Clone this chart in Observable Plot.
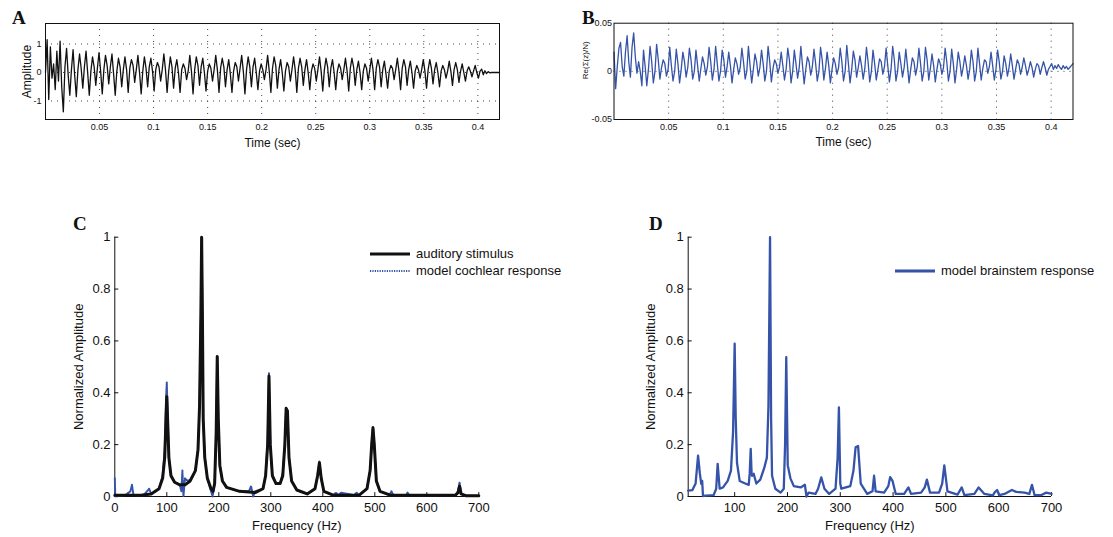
<!DOCTYPE html>
<html><head><meta charset="utf-8">
<script src="https://cdn.jsdelivr.net/npm/d3@7"></script>
<script src="https://cdn.jsdelivr.net/npm/@observablehq/plot@0.6"></script>
<style>
body{margin:0;background:#fff;}
#wrap{position:relative;width:1113px;height:537px;overflow:hidden;background:#fff;font-family:"Liberation Sans",Arial,sans-serif;color:#111;}
.panel{position:absolute;}
.letter{position:absolute;font-family:"Liberation Serif","Times New Roman",serif;font-weight:bold;font-size:19px;line-height:19px;color:#111;}
.leg{position:absolute;display:flex;align-items:center;font-size:13px;height:16px;line-height:16px;color:#111;white-space:nowrap;}
.leg svg{margin-right:6px;display:block;}
</style></head>
<body>
<div id="wrap">
  <div class="letter" style="left:12px;top:8px">A</div>
  <div class="letter" style="left:582px;top:8px">B</div>
  <div class="letter" style="left:73px;top:214px">C</div>
  <div class="letter" style="left:649px;top:214px">D</div>
  <div class="panel" id="pA" style="left:0;top:0"></div>
  <div class="panel" id="pB" style="left:560px;top:0"></div>
  <div class="panel" id="pC" style="left:0;top:200px"></div>
  <div class="panel" id="pD" style="left:600px;top:200px"></div>
  <div class="leg" style="left:370px;top:246px"><svg width="40" height="6"><line x1="0" x2="40" y1="3" y2="3" stroke="#111" stroke-width="3"/></svg><span>auditory stimulus</span></div>
  <div class="leg" style="left:370px;top:263px"><svg width="40" height="6"><line x1="0" x2="40" y1="3" y2="3" stroke="#3553a8" stroke-width="2" stroke-dasharray="1.2,1.2"/></svg><span>model cochlear response</span></div>
  <div class="leg" style="left:895px;top:263px"><svg width="40" height="6"><line x1="0" x2="40" y1="3" y2="3" stroke="#3553a8" stroke-width="3"/></svg><span>model brainstem response</span></div>
</div>
<script>
// ---- data ----
const dt = 0.0015; // sample spacing (sec) of the digitised waveforms
const timeTicks = [0.05,0.1,0.15,0.2,0.25,0.3,0.35,0.4];
const ampTicksA = [-1,0,1];
const ampTicksB = [-0.05,0,0.05];
const freqTicksC = [0,100,200,300,400,500,600,700];
const freqTicksD = [100,200,300,400,500,600,700];
const normTicks = [0,0.2,0.4,0.6,0.8,1];

const stimulusWave = [
0,1.15,-0.95,0.9,-0.2,0.3,-0.6,0.75,-0.3,1.1,-0.5,-1.38,0.2,0.85,-0.1,-0.8,0.1,
0.8,-0.1,-0.85,0.1, 0.65,0.15,-0.55,0.2, 0.75,0.0,-0.8,0.05, 0.55,0.2,-0.45,0.15, 0.7,0.05,-0.75,0.1,
0.6,0.25,-0.4,0.2, 0.65,-0.05,-0.8,0.05, 0.5,0.2,-0.5,0.1, 0.55,0.1,-0.7,0.15, 0.45,0.25,-0.35,0.1,
0.6,0.0,-0.75,0.05, 0.55,0.15,-0.5,0.2, 0.5,0.05,-0.65,0.1, 0.35,0.2,-0.3,0.1, 0.65,0.1,-0.7,0.05,
0.55,0.2,-0.55,0.15, 0.45,0.0,-0.7,0.1, 0.3,0.15,-0.25,0.05, 0.6,0.05,-0.75,0.1, 0.55,0.25,-0.45,0.2,
0.5,0.0,-0.65,0.05, 0.3,0.15,-0.3,0.1, 0.6,0.1,-0.7,0.15, 0.5,0.2,-0.5,0.1, 0.45,-0.05,-0.7,0.05,
0.35,0.2,-0.3,0.15, 0.6,0.05,-0.75,0.1, 0.55,0.2,-0.5,0.2, 0.5,0.0,-0.6,0.05, 0.3,0.1,-0.25,0.1,
0.6,0.05,-0.7,0.15, 0.55,0.25,-0.55,0.1, 0.45,0.0,-0.65,0.05, 0.35,0.2,-0.3,0.1, 0.55,0.1,-0.7,0.15,
0.5,0.2,-0.45,0.1, 0.45,0.0,-0.6,0.05, 0.3,0.15,-0.3,0.1, 0.55,0.05,-0.65,0.1, 0.5,0.2,-0.5,0.15,
0.45,0.0,-0.6,0.05, 0.3,0.15,-0.25,0.1, 0.5,0.05,-0.65,0.15, 0.5,0.2,-0.45,0.1, 0.4,0.0,-0.6,0.05,
0.3,0.15,-0.3,0.1, 0.5,0.1,-0.6,0.15, 0.45,0.2,-0.5,0.1, 0.4,-0.05,-0.55,0.05, 0.25,0.15,-0.25,0.1,
0.5,0.05,-0.6,0.15, 0.45,0.2,-0.45,0.1, 0.4,0.0,-0.55,0.05, 0.25,0.1,-0.2,0.1, 0.45,0.05,-0.55,0.1,
0.45,0.15,-0.4,0.1, 0.35,0.0,-0.5,0.05, 0.25,0.1,-0.2,0.05, 0.4,0.05,-0.45,0.1, 0.35,0.1,-0.35,0.05,
0.3,0.0,-0.3,0.05, 0.2,0.05,-0.15,0.05, 0.25,0.0,-0.2,0.05,
0.12,-0.08,0.06,-0.04,0.03,-0.01,0,0,0,0,0,0
];

const brainWave = [
0.02,-0.018,0.005,0.024,0.03,0.005,-0.005,0.02,0.037,0.01,-0.006,0.025,0.04,0.015,-0.002,0.01,0.0,-0.015,
0.022,0.005,-0.015,0.002, 0.026,0.01,-0.012,0.0, 0.028,0.012,-0.008,0.004, 0.012,0.008,-0.005,0.002,
0.025,0.006,-0.01,0.0, 0.023,0.008,-0.012,0.002, 0.02,0.01,-0.006,0.004, 0.024,0.012,-0.008,0.0,
0.022,0.006,-0.01,0.003, 0.015,0.008,-0.004,0.005, 0.025,0.01,-0.009,0.002, 0.026,0.008,-0.01,0.0,
0.022,0.012,-0.006,0.005, 0.02,0.006,-0.012,0.002, 0.014,0.008,-0.003,0.004, 0.024,0.01,-0.008,0.0,
0.026,0.006,-0.012,0.002, 0.018,0.01,-0.005,0.004, 0.022,0.008,-0.01,0.0, 0.026,0.01,-0.011,0.003,
0.012,0.008,-0.002,0.005, 0.02,0.006,-0.009,0.002, 0.024,0.012,-0.012,0.0, 0.022,0.008,-0.007,0.004,
0.026,0.006,-0.013,0.002, 0.015,0.01,-0.004,0.005, 0.023,0.008,-0.01,0.0, 0.025,0.012,-0.009,0.003,
0.02,0.006,-0.012,0.002, 0.014,0.008,-0.003,0.004, 0.024,0.01,-0.01,0.0, 0.027,0.008,-0.012,0.002,
0.021,0.012,-0.006,0.004, 0.016,0.006,-0.008,0.003, 0.025,0.01,-0.011,0.0, 0.022,0.008,-0.009,0.002,
0.013,0.01,-0.003,0.005, 0.024,0.006,-0.011,0.002, 0.026,0.012,-0.01,0.0, 0.02,0.008,-0.006,0.004,
0.023,0.006,-0.012,0.002, 0.014,0.01,-0.004,0.005, 0.024,0.008,-0.01,0.0, 0.025,0.012,-0.009,0.003,
0.018,0.006,-0.011,0.002, 0.013,0.008,-0.003,0.004, 0.024,0.01,-0.01,0.0, 0.023,0.008,-0.012,0.002,
0.02,0.01,-0.005,0.004, 0.016,0.006,-0.008,0.002, 0.022,0.01,-0.01,0.0, 0.024,0.008,-0.009,0.003,
0.012,0.01,-0.002,0.005, 0.02,0.006,-0.009,0.002, 0.022,0.01,-0.008,0.0, 0.016,0.008,-0.005,0.004,
0.018,0.006,-0.008,0.002, 0.012,0.008,-0.003,0.004, 0.014,0.006,-0.004,0.002, 0.01,0.004,-0.006,0.002,
0.008,0.006,-0.003,0.004, 0.01,0.004,-0.004,0.002,
0.005,0.008,0.002,0.006,0.003,0.007,0.004,0.002,0.006,0.003,0.005,0.002,0.004,0.006,0.008
];

const stimFreq = [0,50,70,85,92,96,98.5,100,101.5,104,108,115,125,135,145,155,160,163,165.5,167,168.5,170,173,178,185,189,192,195,197,199,202,207,215,240,270,285,290,294,296.5,299,303,310,318,323,327,329.5,332,335,340,350,370,385,390,393.5,397,402,420,470,485,491,494,496.5,499,503,510,530,655,660,663,666,675,700];
const stimAmp  = [0.005,0.005,0.01,0.03,0.07,0.15,0.3,0.385,0.3,0.15,0.08,0.055,0.045,0.045,0.06,0.1,0.18,0.35,0.7,1.0,0.7,0.3,0.15,0.07,0.03,0.02,0.05,0.25,0.54,0.3,0.12,0.06,0.035,0.02,0.015,0.03,0.08,0.2,0.465,0.2,0.08,0.05,0.05,0.08,0.2,0.34,0.33,0.15,0.06,0.025,0.01,0.03,0.08,0.13,0.07,0.02,0.005,0.005,0.03,0.1,0.2,0.265,0.2,0.06,0.02,0.005,0.005,0.015,0.04,0.01,0.003,0.003];

const cochFreq = [0,1,20,30,33,36,55,62,66,70,85,92,96,98.5,100,101.5,104,108,115,125,128,130,132,135,140,145,155,160,163,165.5,167,168.5,170,173,178,185,188,192,195,197,199,202,207,215,240,258,262,266,270,285,290,294,296.5,299,303,310,318,323,327,329.5,332,335,340,350,370,385,390,393.5,397,402,420,425,430,435,460,465,470,485,491,494,496.5,499,503,510,528,532,536,560,563,566,655,660,663,666,675,700];
const cochAmp  = [0.07,0.0,0.005,0.02,0.045,0.005,0.005,0.02,0.03,0.01,0.03,0.08,0.18,0.38,0.44,0.33,0.15,0.08,0.055,0.045,0.02,0.1,0.0,0.07,0.06,0.065,0.1,0.18,0.35,0.7,1.0,0.7,0.3,0.15,0.07,0.02,0.0,0.05,0.25,0.54,0.3,0.12,0.06,0.035,0.02,0.02,0.04,0.0,0.02,0.03,0.08,0.22,0.475,0.2,0.08,0.05,0.05,0.09,0.2,0.34,0.33,0.15,0.06,0.025,0.01,0.03,0.08,0.135,0.07,0.02,0.005,0.015,0.005,0.015,0.005,0.015,0.005,0.03,0.1,0.2,0.27,0.2,0.06,0.02,0.005,0.02,0.005,0.005,0.015,0.005,0.005,0.02,0.055,0.01,0.003,0.003];

const brainFreq = [12,20,26,30.7,34,36.7,38.5,40,45,60,65,67.8,71.6,78,86.8,93,97,100,102,104.4,109.5,120,126.6,128.5,130.4,132,133,136,141,148.5,156,161,164,167,169,170.8,177,187,193,195.5,197.7,200.5,205.6,212,225,233,236,240,253,258,264,270,279,291,295,297.4,300,302,319,325,329,333.7,338.7,351,361,364,367,383,391,394.5,399,405,421,429,434,453,460,464,470,487,493,497,503,522,530,535,554,562,573,589,592,597,601,611,625,633,649,658,663,668,680,690,700];
const brainAmp  = [0.023,0.025,0.05,0.158,0.09,0.049,0.06,0.002,0.003,0.005,0.03,0.126,0.03,0.035,0.06,0.1,0.25,0.589,0.3,0.13,0.06,0.05,0.045,0.09,0.184,0.09,0.08,0.088,0.05,0.065,0.11,0.15,0.35,1.0,0.3,0.08,0.03,0.015,0.03,0.2,0.537,0.12,0.07,0.04,0.035,0.045,0.0,0.015,0.01,0.03,0.074,0.03,0.01,0.03,0.15,0.344,0.05,0.03,0.04,0.1,0.19,0.195,0.05,0.01,0.02,0.08,0.02,0.015,0.04,0.075,0.06,0.01,0.01,0.035,0.01,0.015,0.035,0.065,0.015,0.015,0.05,0.12,0.02,0.007,0.035,0.005,0.01,0.035,0.01,0.004,0.015,0.025,0.005,0.01,0.025,0.018,0.015,0.01,0.045,0.005,0.005,0.015,0.01];

// ---- build tables ----
const dataA = stimulusWave.map((v,i) => ({t: i*dt, v}));
const dataB = brainWave.map((v,i) => ({t: i*dt, v}));
const dataStim = stimFreq.map((f,i) => ({f, a: stimAmp[i]}));
const dataCoch = cochFreq.map((f,i) => ({f, a: cochAmp[i]}));
const dataBrain = brainFreq.map((f,i) => ({f, a: brainAmp[i]}));

const FONT = '"Liberation Sans", Arial, sans-serif';
const BLUE = "#3553a8";
const INK = "#111";
const fmt = d => String(d);

// ---- A ----
const plotA = Plot.plot({
  width: 520, height: 160, marginLeft: 45, marginRight: 21, marginTop: 23, marginBottom: 41,
  style: {fontFamily: FONT, fontSize: "9px", color: INK, background: "transparent", overflow: "visible"},
  x: {domain: [0, 0.42]},
  y: {domain: [-1.65, 1.72]},
  marks: [
    Plot.ruleX(timeTicks, {stroke: "#444", strokeDasharray: "1,5", strokeWidth: 1}),
    Plot.ruleY(ampTicksA, {stroke: "#444", strokeDasharray: "1,5", strokeWidth: 1}),
    Plot.line(dataA, {x: "t", y: "v", stroke: INK, strokeWidth: 1.3}),
    Plot.frame({stroke: INK}),
    Plot.axisX(timeTicks, {tickSize: 0, tickPadding: 4, tickFormat: fmt, label: null}),
    Plot.axisY(ampTicksA, {tickSize: 0, tickPadding: 4, tickFormat: fmt, label: null}),
    Plot.text(["Time (sec)"], {frameAnchor: "bottom", dy: 24, lineAnchor: "middle", textAnchor: "middle", fontSize: 12, fill: INK}),
    Plot.text(["Amplitude"], {frameAnchor: "left", rotate: -90, dx: -18, lineAnchor: "middle", textAnchor: "middle", fontSize: 12, fill: INK})
  ]
});
document.getElementById("pA").append(plotA);

// ---- B ----
const plotB = Plot.plot({
  width: 553, height: 160, marginLeft: 53.5, marginRight: 40.5, marginTop: 22.7, marginBottom: 41,
  style: {fontFamily: FONT, fontSize: "9px", color: INK, background: "transparent", overflow: "visible"},
  x: {domain: [0, 0.42]},
  y: {domain: [-0.05, 0.05]},
  marks: [
    Plot.ruleX(timeTicks, {stroke: "#444", strokeDasharray: "1,5", strokeWidth: 1}),
    Plot.ruleY([0], {stroke: "#444", strokeDasharray: "1,5", strokeWidth: 1}),
    Plot.line(dataB, {x: "t", y: "v", stroke: BLUE, strokeWidth: 1.3}),
    Plot.frame({stroke: INK}),
    Plot.axisX(timeTicks, {tickSize: 0, tickPadding: 4, tickFormat: fmt, label: null}),
    Plot.axisY(ampTicksB, {tickSize: 0, tickPadding: 2, tickFormat: fmt, label: null}),
    Plot.text(["Time (sec)"], {frameAnchor: "bottom", dy: 23, lineAnchor: "middle", textAnchor: "middle", fontSize: 12, fill: INK}),
    Plot.text(["Re(Σ(z)/N)"], {frameAnchor: "left", rotate: -90, dx: -29, dy: -11, lineAnchor: "middle", textAnchor: "middle", fontSize: 8, fill: INK})
  ]
});
document.getElementById("pB").append(plotB);

// ---- C ----
const plotC = Plot.plot({
  width: 540, height: 337, marginLeft: 114.3, marginRight: 61.7, marginTop: 36.7, marginBottom: 41,
  style: {fontFamily: FONT, fontSize: "13px", color: INK, background: "transparent", overflow: "visible"},
  x: {domain: [0, 700]},
  y: {domain: [0, 1]},
  marks: [
    Plot.ruleY([0], {stroke: INK}),
    Plot.ruleX([0], {stroke: INK}),
    Plot.ruleX(freqTicksC, {y1: 0, y2: 0.015, stroke: INK}),
    Plot.ruleY(normTicks, {x1: 0, x2: 7.7, stroke: INK}),
    Plot.line(dataCoch, {x: "f", y: "a", stroke: BLUE, strokeWidth: 2, strokeDasharray: "1.2,1.2"}),
    Plot.line(dataStim, {x: "f", y: "a", stroke: INK, strokeWidth: 3, strokeLinejoin: "round"}),
    Plot.axisX(freqTicksC, {tickSize: 0, tickPadding: 6.5, tickFormat: fmt, label: null}),
    Plot.axisY(normTicks, {tickSize: 0, tickPadding: 4.3, tickFormat: fmt, label: null}),
    Plot.text(["Frequency (Hz)"], {frameAnchor: "bottom", dy: 29, lineAnchor: "middle", textAnchor: "middle", fontSize: 13, fill: INK}),
    Plot.text(["Normalized Amplitude"], {frameAnchor: "left", rotate: -90, dx: -36, lineAnchor: "middle", textAnchor: "middle", fontSize: 13, fill: INK})
  ]
});
document.getElementById("pC").append(plotC);

// ---- D ----
const plotD = Plot.plot({
  width: 513, height: 337, marginLeft: 87.7, marginRight: 62, marginTop: 36.7, marginBottom: 41,
  style: {fontFamily: FONT, fontSize: "13px", color: INK, background: "transparent", overflow: "visible"},
  x: {domain: [12, 700]},
  y: {domain: [0, 1]},
  marks: [
    Plot.ruleY([0], {stroke: INK}),
    Plot.ruleX([12], {stroke: INK}),
    Plot.ruleX(freqTicksD, {y1: 0, y2: 0.015, stroke: INK}),
    Plot.ruleY(normTicks, {x1: 12, x2: 19.6, stroke: INK}),
    Plot.line(dataBrain, {x: "f", y: "a", stroke: BLUE, strokeWidth: 2.3, strokeLinejoin: "round"}),
    Plot.axisX(freqTicksD, {tickSize: 0, tickPadding: 6.5, tickFormat: fmt, label: null}),
    Plot.axisY(normTicks, {tickSize: 0, tickPadding: 4.4, tickFormat: fmt, label: null}),
    Plot.text(["Frequency (Hz)"], {frameAnchor: "bottom", dy: 29, lineAnchor: "middle", textAnchor: "middle", fontSize: 13, fill: INK}),
    Plot.text(["Normalized Amplitude"], {frameAnchor: "left", rotate: -90, dx: -37.7, lineAnchor: "middle", textAnchor: "middle", fontSize: 13, fill: INK})
  ]
});
document.getElementById("pD").append(plotD);
</script>
</body></html>
